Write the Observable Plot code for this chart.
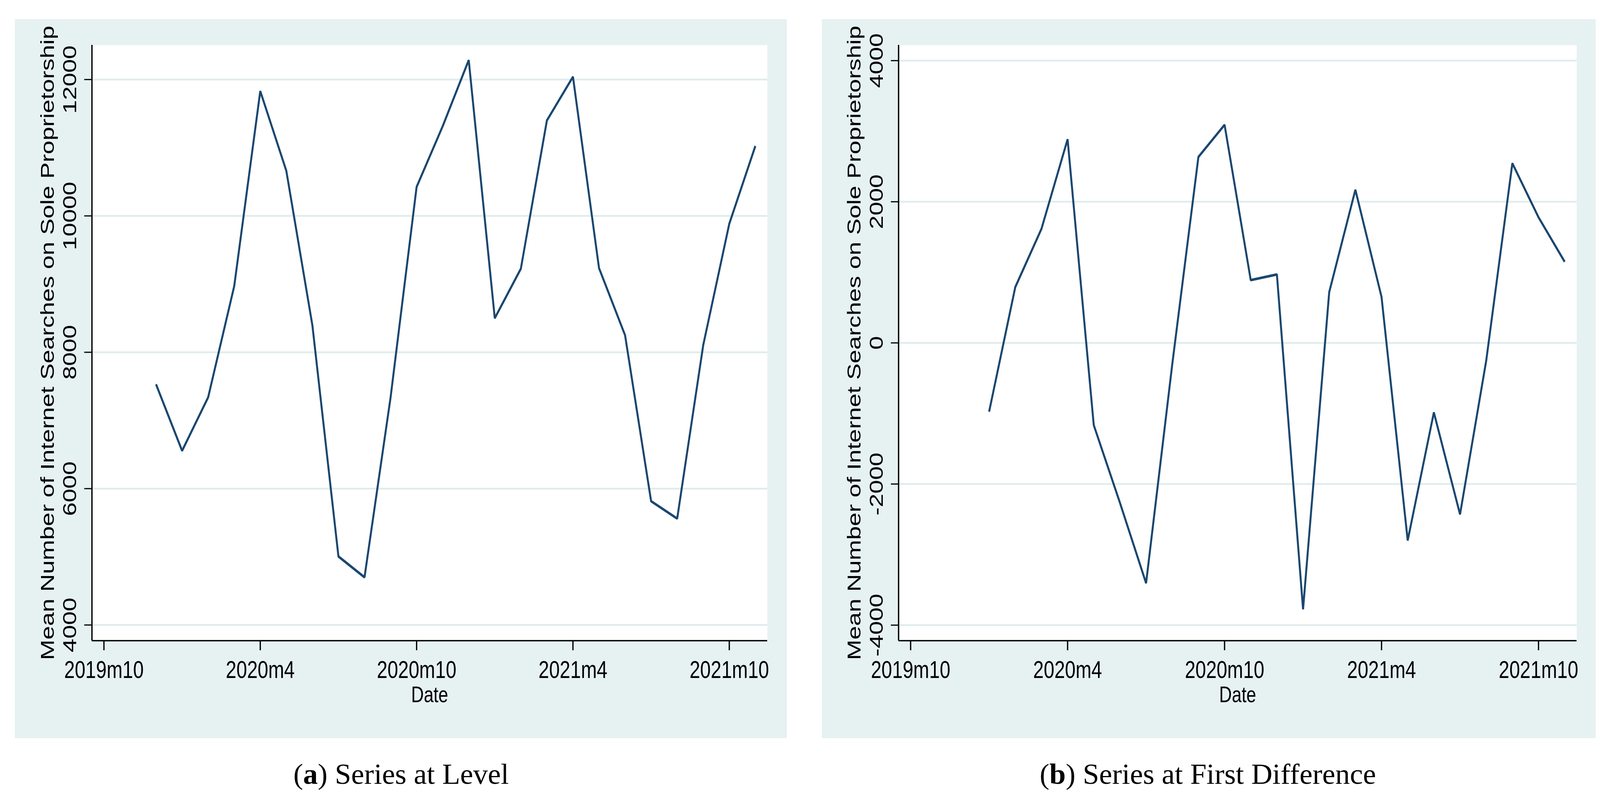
<!DOCTYPE html>
<html>
<head>
<meta charset="utf-8">
<script src="https://cdn.jsdelivr.net/npm/d3@7"></script>
<script src="https://cdn.jsdelivr.net/npm/@observablehq/plot@0.6"></script>
<style>
  html, body { margin: 0; padding: 0; background: #ffffff; }
  #root { position: relative; width: 4128px; height: 2051px; overflow: hidden; background: #ffffff; }
  .panel { position: absolute; transform-origin: 0 0; }
  .panel svg { max-width: none !important; }
  .caption { position: absolute; width: 1400px; text-align: center; font-family: "Liberation Serif", "Times New Roman", serif; font-size: 75px; line-height: 75px; color: #000; white-space: nowrap; }
</style>
</head>
<body>
<div id="root"></div>
<script>
// ---------- data ----------
const levelMonths = ["2019m12","2020m1","2020m2","2020m3","2020m4","2020m5","2020m6","2020m7","2020m8","2020m9","2020m10","2020m11","2020m12","2021m1","2021m2","2021m3","2021m4","2021m5","2021m6","2021m7","2021m8","2021m9","2021m10","2021m11"];
const levelValues = [7530, 6555, 7340, 8970, 11830, 10660, 8395, 5005, 4700, 7335, 10425, 11315, 12285, 8500, 9225, 11400, 12040, 9235, 8250, 5815, 5560, 8105, 9885, 11025];

const diffMonths = ["2020m1","2020m2","2020m3","2020m4","2020m5","2020m6","2020m7","2020m8","2020m9","2020m10","2020m11","2020m12","2021m1","2021m2","2021m3","2021m4","2021m5","2021m6","2021m7","2021m8","2021m9","2021m10","2021m11"];
const diffValues = [-975, 790, 1615, 2885, -1165, -2265, -3405, -305, 2635, 3090, 890, 970, -3775, 720, 2170, 650, -2800, -985, -2430, -255, 2545, 1780, 1150];

const xTickLabels = ["2019m10","2020m4","2020m10","2021m4","2021m10"];
const levelYTicks = [4000, 6000, 8000, 10000, 12000];
const diffYTicks = [-4000, -2000, 0, 2000, 4000];

const xTitle = "Date";
const yTitle = "Mean Number of Internet Searches on Sole Proprietorship";
const captionA = ["a", "Series at Level"];
const captionB = ["b", "Series at First Difference"];

// ---------- helpers ----------
const monthIndex = s => { const [y, m] = s.split("m").map(Number); return y * 12 + (m - 1); };
const monthLabel = d => `${Math.floor(d / 12)}m${(d % 12) + 1}`;

const S = 0.775; // horizontal compression of the original figure
const BG = "#E6F1F2";
const GRID = "#DFECED";
const LINE = "#1A476F";
const FONT = "'Liberation Sans', Arial, Helvetica, sans-serif";

const xTicks = xTickLabels.map(monthIndex);
const xDomain = [monthIndex("2019m10") - 0.46, monthIndex("2021m11") + 0.46];

function panel({months, values, yTicks, yDomain, left, top, w, h, plotLeft, plotRight, plotTop, plotBottom}) {
  const data = months.map((m, i) => ({t: monthIndex(m), v: values[i]}));
  const W = w / S;
  const svg = Plot.plot({
    width: W,
    height: h,
    marginLeft: (plotLeft - left) / S,
    marginRight: (left + w - plotRight) / S,
    marginTop: plotTop - top,
    marginBottom: top + h - plotBottom,
    style: {background: BG, fontFamily: FONT, color: "#000", overflow: "visible"},
    x: {type: "linear", domain: xDomain},
    y: {type: "linear", domain: yDomain},
    marks: [
      Plot.frame({fill: "white", stroke: null}),
      Plot.gridY(yTicks, {stroke: GRID, strokeWidth: 4.5, strokeOpacity: 1}),
      Plot.line(data, {x: "t", y: "v", stroke: LINE, strokeWidth: 6.5, strokeLinejoin: "miter", strokeLinecap: "butt"}),
      Plot.ruleX([xDomain[0]], {stroke: "#000", strokeWidth: 4.4}),
      Plot.ruleY([yDomain[0]], {stroke: "#000", strokeWidth: 3.4}),
      Plot.axisY({ticks: yTicks, tickSize: 25, tickPadding: 27, tickRotate: -90, tickFormat: d => String(d), fontSize: 63, strokeWidth: 3, label: null}),
      Plot.axisX({ticks: xTicks, tickSize: 25, tickPadding: 26, tickFormat: monthLabel, fontSize: 63, strokeWidth: 4.2, label: null}),
      Plot.text([yTitle], {frameAnchor: "left", rotate: -90, dx: -126, lineAnchor: "bottom", textAnchor: "middle", fontSize: 63}),
      Plot.text([xTitle], {frameAnchor: "bottom", dy: 116, lineAnchor: "top", textAnchor: "middle", fontSize: 58})
    ]
  });
  const div = document.createElement("div");
  div.className = "panel";
  div.style.left = left + "px";
  div.style.top = top + "px";
  div.style.width = W + "px";
  div.style.height = h + "px";
  div.style.transform = `scaleX(${S})`;
  div.appendChild(svg);
  return div;
}

const root = document.getElementById("root");
root.appendChild(panel({
  months: levelMonths, values: levelValues, yTicks: levelYTicks, yDomain: [3770, 12505],
  left: 38, top: 49, w: 1976, h: 1841, plotLeft: 235, plotRight: 1964, plotTop: 115, plotBottom: 1640
}));
root.appendChild(panel({
  months: diffMonths, values: diffValues, yTicks: diffYTicks, yDomain: [-4220, 4220],
  left: 2104, top: 49, w: 1981, h: 1841, plotLeft: 2300, plotRight: 4036, plotTop: 115, plotBottom: 1640
}));

function caption([letter, text], center) {
  const d = document.createElement("div");
  d.className = "caption";
  d.style.left = (center - 700) + "px";
  d.style.top = "1944px";
  d.innerHTML = `(<b>${letter}</b>) ${text}`;
  root.appendChild(d);
}
caption(captionA, 1027);
caption(captionB, 3092);
</script>
</body>
</html>
